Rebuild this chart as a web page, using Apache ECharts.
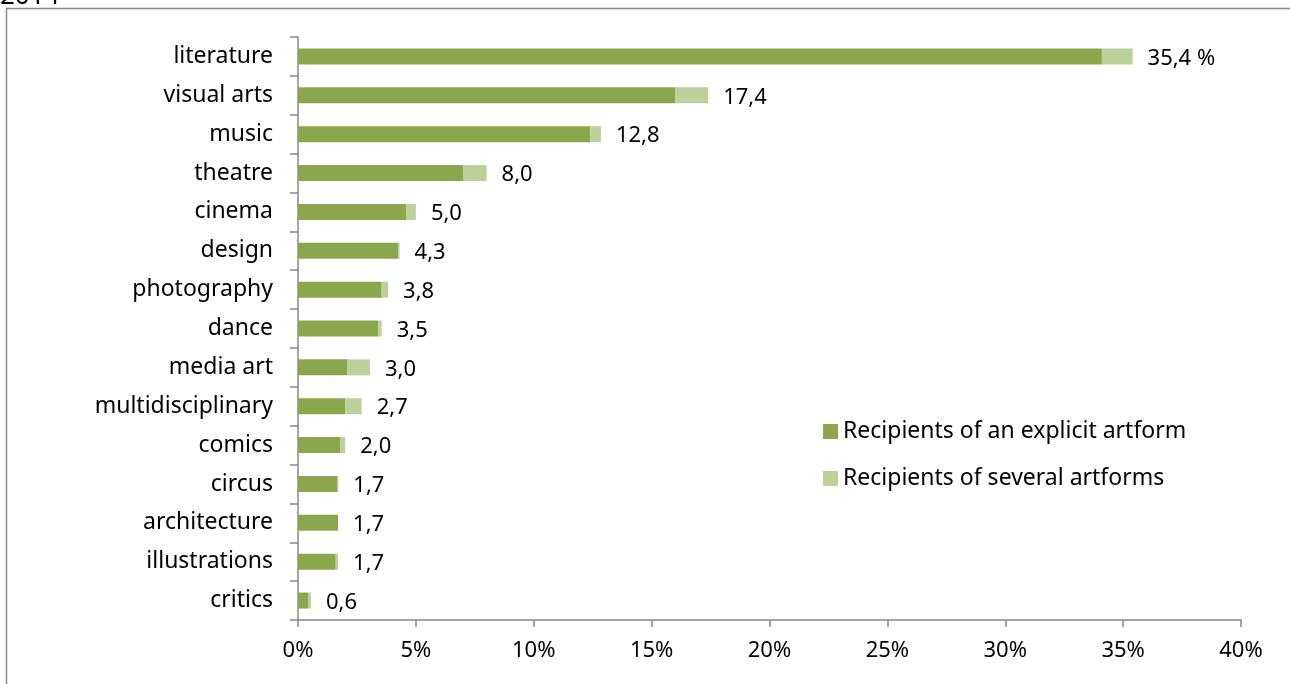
<!DOCTYPE html>
<html>
<head>
<meta charset="utf-8">
<script src="https://cdn.jsdelivr.net/npm/echarts@6/dist/echarts.min.js"></script>
<style>
    html, body { margin: 0; padding: 0; background: #fff; }
    #chart { width: 1290px; height: 684px; }
</style>
</head>
<body>
<div id="chart"></div>
<script>
    // categories, top to bottom as in the picture
    let artforms = ['literature', 'visual arts', 'music', 'theatre', 'cinema', 'design', 'photography',
        'dance', 'media art', 'multidisciplinary', 'comics', 'circus', 'architecture', 'illustrations', 'critics'];
    let explicitShare = [34.1, 16.0, 12.4, 7.0, 4.6, 4.25, 3.55, 3.4, 2.1, 2.0, 1.8, 1.68, 1.7, 1.6, 0.45];
    let severalShare = [1.3, 1.4, 0.45, 1.0, 0.4, 0.06, 0.27, 0.15, 0.95, 0.7, 0.2, 0.03, 0, 0.1, 0.1];
    let totalLabels = ['35,4 %', '17,4', '12,8', '8,0', '5,0', '4,3', '3,8', '3,5', '3,0', '2,7', '2,0', '1,7', '1,7', '1,7', '0,6'];

    let font = '"Noto Sans", sans-serif';
    let chart = echarts.init(document.getElementById('chart'));

    let option = {
        animation: false,
        textStyle: { fontFamily: font },
        graphic: [
            {
                type: 'text',
                left: 0,
                top: -16,
                style: { text: '2014', fontSize: 26, fontFamily: font, fill: '#000' }
            },
            {
                type: 'rect',
                shape: { x: 6.5, y: 8.5, width: 1300, height: 700 },
                style: { fill: 'none', stroke: '#888', lineWidth: 1.5 },
                silent: true
            }
        ],
        legend: {
            orient: 'vertical',
            left: 818,
            top: 415,
            itemWidth: 15,
            itemHeight: 15,
            itemGap: 24,
            icon: 'rect',
            textStyle: { fontSize: 23, color: '#000', fontFamily: font },
            data: ['Recipients of an explicit artform', 'Recipients of several artforms']
        },
        grid: {
            left: 298,
            right: 49,
            top: 37,
            bottom: 64
        },
        xAxis: {
            type: 'value',
            min: 0,
            max: 40,
            interval: 5,
            axisLine: { show: true, lineStyle: { color: '#888', width: 1.5 } },
            axisTick: { show: true, length: 7, lineStyle: { color: '#888', width: 1.5 } },
            splitLine: { show: false },
            axisLabel: {
                color: '#000',
                fontSize: 22,
                margin: 20,
                formatter: '{value}%'
            }
        },
        yAxis: {
            type: 'category',
            inverse: true,
            data: artforms,
            axisLine: { show: true, lineStyle: { color: '#888', width: 1.5 } },
            axisTick: { show: true, length: 8, lineStyle: { color: '#888', width: 1.5 } },
            axisLabel: { color: '#000', fontSize: 23, margin: 25 }
        },
        series: [
            {
                name: 'Recipients of an explicit artform',
                type: 'bar',
                stack: 'total',
                barWidth: 16,
                itemStyle: { color: '#8ba74e' },
                data: explicitShare
            },
            {
                name: 'Recipients of several artforms',
                type: 'bar',
                stack: 'total',
                barWidth: 16,
                itemStyle: { color: '#bcd19a' },
                label: {
                    show: true,
                    position: 'right',
                    distance: 15,
                    offset: [0, 2],
                    color: '#000',
                    fontSize: 22,
                    fontFamily: font,
                    formatter: function (p) {
                        return totalLabels[p.dataIndex];
                    }
                },
                data: severalShare
            }
        ]
    };

    chart.setOption(option);
</script>
</body>
</html>
